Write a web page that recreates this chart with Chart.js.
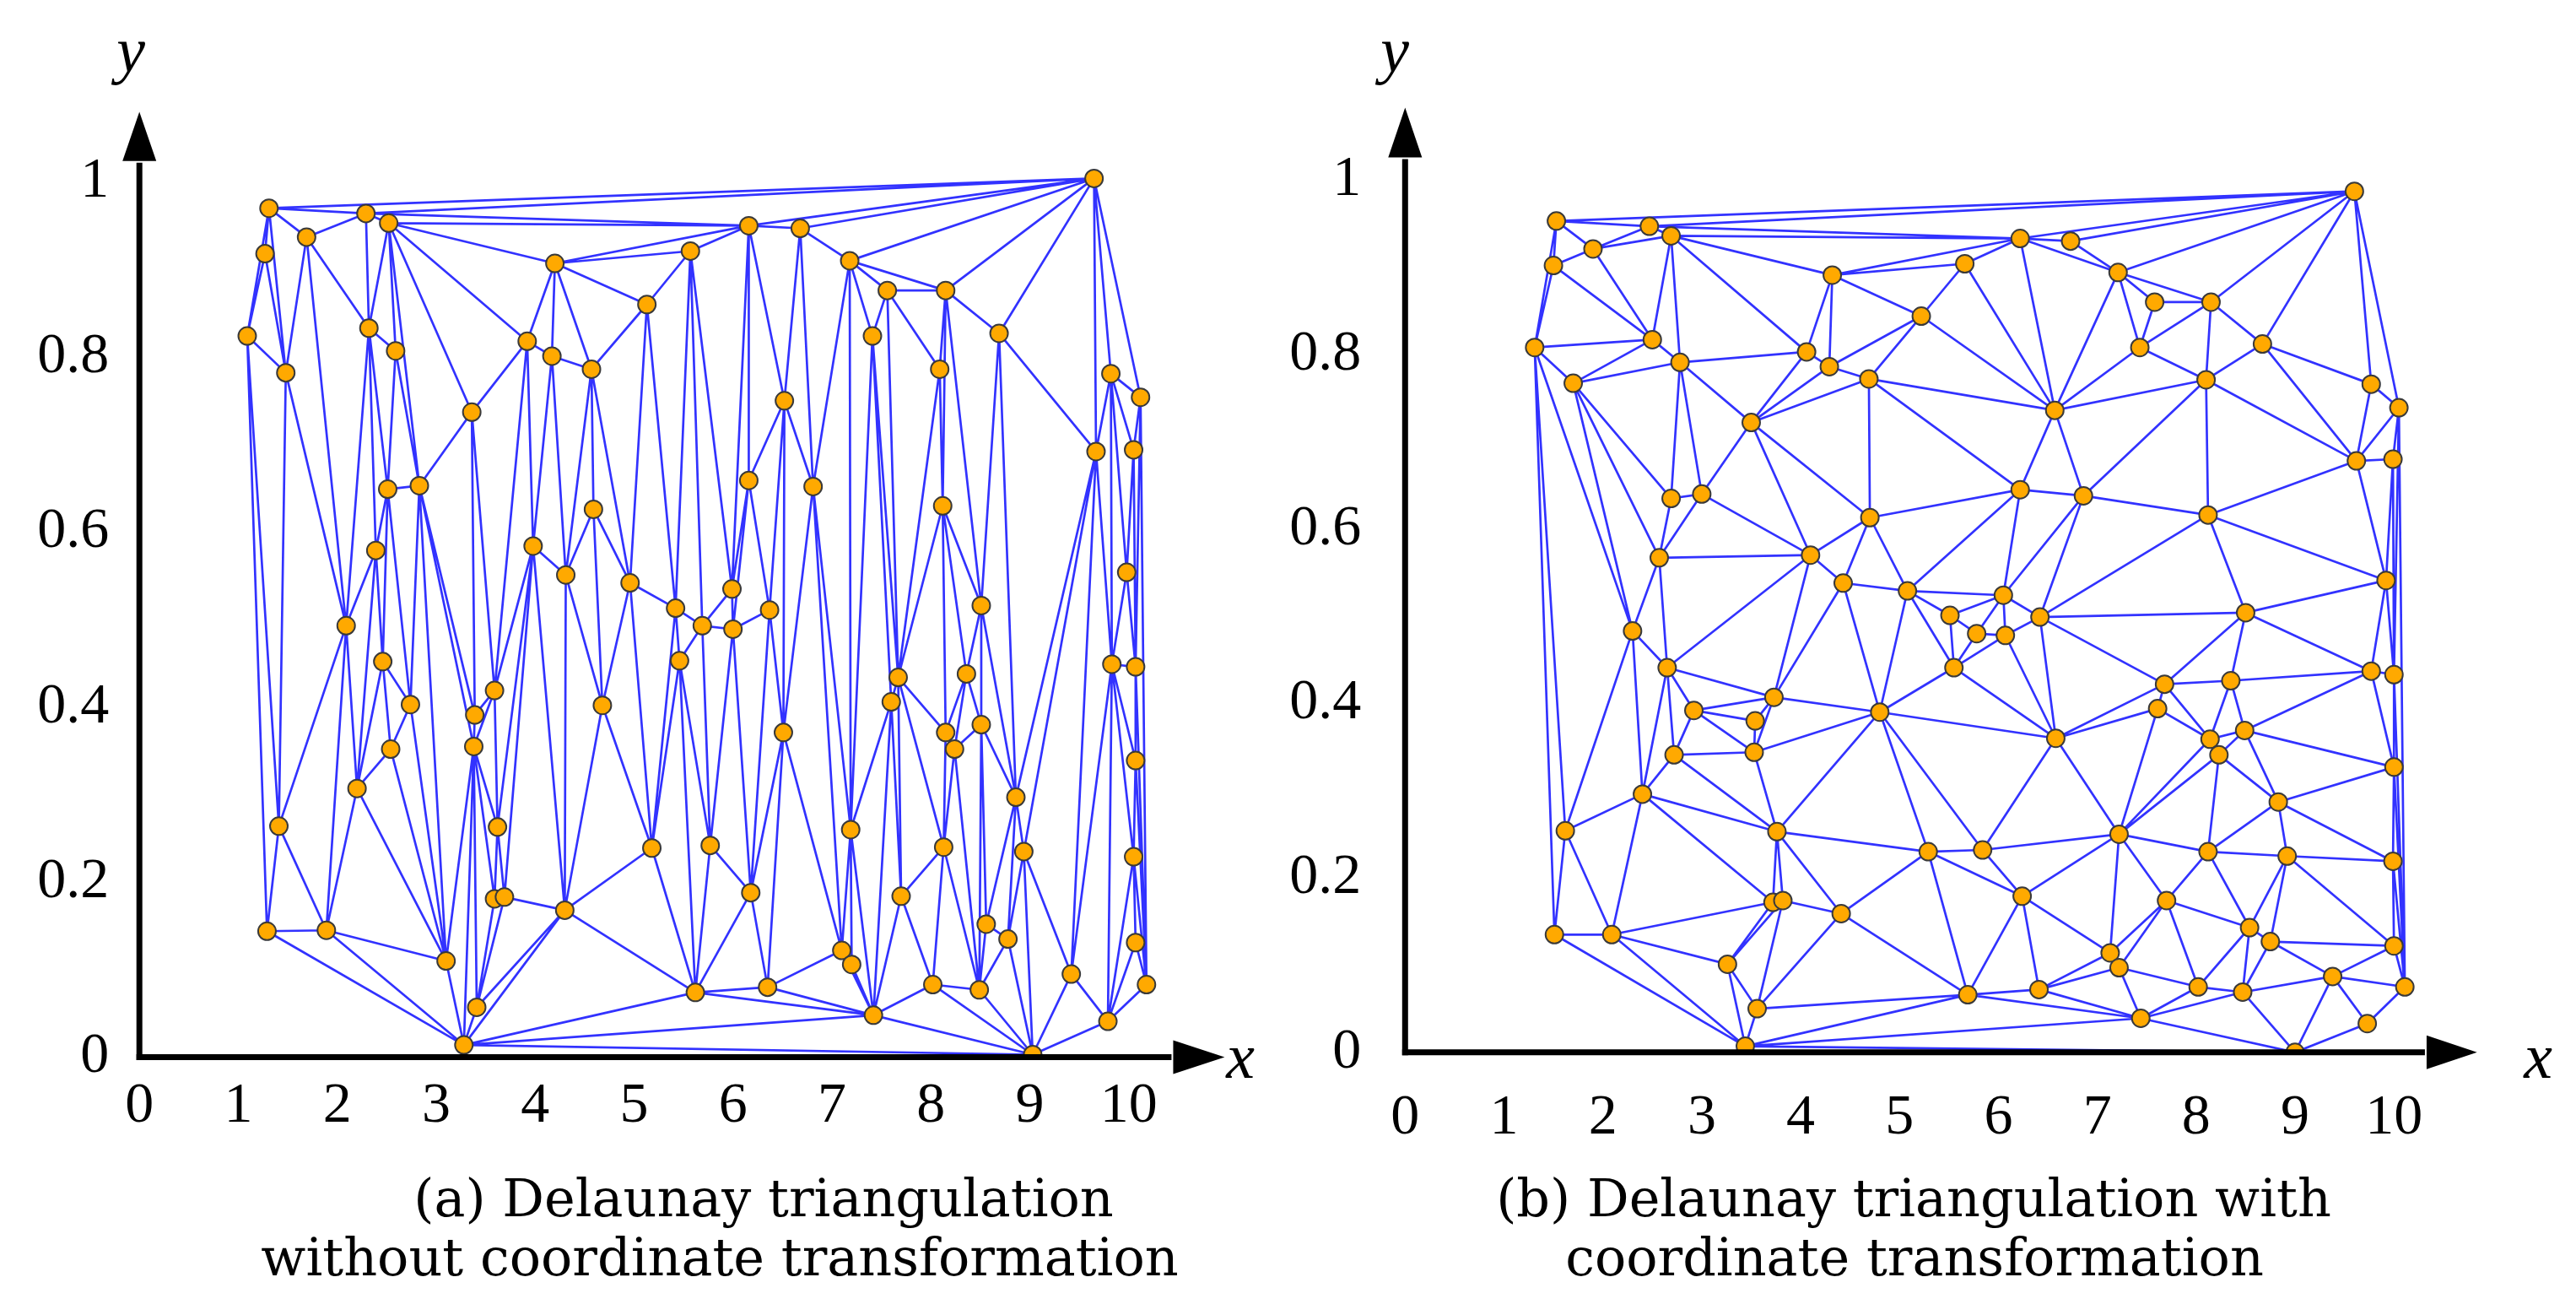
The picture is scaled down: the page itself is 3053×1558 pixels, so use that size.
<!DOCTYPE html>
<html>
<head>
<meta charset="utf-8">
<script src="https://cdn.jsdelivr.net/npm/chart.js@4.4.1/dist/chart.umd.min.js"></script>
<style>
  html, body { margin: 0; padding: 0; background: #ffffff; }
  body { width: 3053px; height: 1558px; position: relative; overflow: hidden; }
  canvas { position: absolute; top: 0; }
  .cap { position: absolute; font-family: "DejaVu Serif", serif; font-size: 62px; line-height: 62px; white-space: nowrap; transform: translateX(-50%); color: #000; }
  .ax { position: absolute; font-family: "Liberation Serif", serif; font-style: italic; font-size: 76px; line-height: 76px; white-space: nowrap; transform: translateX(-50%); color: #000; }
</style>
</head>
<body>
<canvas id="ca" width="1500" height="1558" style="left:0px;width:1500px;height:1558px"></canvas>
<canvas id="cb" width="1553" height="1558" style="left:1500px;width:1553px;height:1558px"></canvas>

<div class="ax" style="left:155px;top:21px">y</div>
<div class="ax" style="left:1470px;top:1213px">x</div>
<div class="ax" style="left:1653px;top:21px">y</div>
<div class="ax" style="left:3008px;top:1213px">x</div>

<div class="cap" style="left:905px;top:1389px">(a) Delaunay triangulation</div>
<div class="cap" style="left:853px;top:1459px">without coordinate transformation</div>
<div class="cap" style="left:2268px;top:1389px">(b) Delaunay triangulation with</div>
<div class="cap" style="left:2269px;top:1459px">coordinate transformation</div>

<script>
// ---------------- DATA ----------------
const xTicks = [0, 1, 2, 3, 4, 5, 6, 7, 8, 9, 10];
const xTickLabels = ['0', '1', '2', '3', '4', '5', '6', '7', '8', '9', '10'];
const yTicks = [0, 0.2, 0.4, 0.6, 0.8, 1];
const yTickLabels = ['0', '0.2', '0.4', '0.6', '0.8', '1'];

// (a) nodes, triangulated without coordinate transformation
const nodesA_x = [
  1.31, 2.29, 2.52, 1.69, 1.27, 4.20, 5.13, 1.09, 2.32, 2.59, 1.48, 3.92, 4.17, 4.57, 3.36, 2.51, 2.83,
  4.59, 2.39, 3.98, 4.31, 4.96, 2.09, 9.65, 6.16, 6.68, 5.57, 7.18, 7.56, 8.15, 7.41, 8.69, 8.09, 9.82,
  10.12, 6.52, 9.67, 10.05, 6.16, 6.81, 8.12, 9.98, 5.99, 5.42, 6.37, 5.69, 6.00, 8.51, 2.46, 2.74, 3.59,
  3.39, 4.68, 2.54, 3.38, 2.20, 1.41, 3.62, 5.18, 3.59, 3.69, 4.30, 1.29, 1.89, 3.10, 3.41, 3.28, 5.46,
  7.67, 7.60, 8.36, 9.83, 10.07, 6.51, 8.15, 8.51, 8.24, 10.07, 8.86, 7.19, 5.77, 8.13, 8.94, 10.05, 6.18,
  7.70, 8.56, 8.78, 10.07, 7.10, 7.20, 9.42, 10.18, 8.02, 8.49, 5.62, 6.35, 7.42, 9.79, 9.03
];
const nodesA_y = [
  0.970, 0.964, 0.953, 0.937, 0.918, 0.907, 0.860, 0.824, 0.833, 0.807, 0.782, 0.818, 0.801, 0.786, 0.737, 0.649, 0.653,
  0.626, 0.579, 0.584, 0.551, 0.542, 0.493, 1.004, 0.950, 0.947, 0.921, 0.910, 0.876, 0.876, 0.824, 0.827, 0.786, 0.781,
  0.754, 0.750, 0.692, 0.694, 0.659, 0.652, 0.630, 0.554, 0.535, 0.513, 0.511, 0.493, 0.489, 0.516, 0.452, 0.403, 0.419,
  0.391, 0.402, 0.352, 0.355, 0.307, 0.264, 0.263, 0.239, 0.181, 0.183, 0.168, 0.144, 0.145, 0.110, 0.057, 0.014, 0.453,
  0.434, 0.406, 0.438, 0.449, 0.446, 0.371, 0.371, 0.380, 0.352, 0.339, 0.297, 0.260, 0.242, 0.240, 0.235, 0.229, 0.188,
  0.184, 0.152, 0.135, 0.131, 0.122, 0.106, 0.095, 0.083, 0.083, 0.077, 0.074, 0.080, 0.048, 0.041, 0.003
];

// (b) nodes, triangulated with coordinate transformation
const nodesB_x = [
  1.53, 2.47, 2.69, 1.90, 1.50, 4.32, 5.66, 5.22, 1.31, 2.50, 2.78, 1.70, 4.06, 4.29, 4.69, 3.50, 2.69,
  3.00, 4.70, 2.57, 4.10, 4.43, 5.08, 5.51, 2.30, 9.60, 6.22, 6.73, 7.21, 7.58, 8.15, 7.43, 8.67, 8.10,
  9.77, 10.05, 6.57, 9.62, 9.99, 6.22, 6.86, 8.12, 9.92, 6.05, 6.42, 8.50, 2.65, 5.55, 3.73, 2.92, 3.54,
  4.80, 2.72, 3.53, 2.40, 1.62, 3.76, 5.29, 3.72, 3.82, 4.41, 1.51, 2.09, 3.26, 3.56, 3.44, 5.69, 5.78,
  6.07, 7.68, 8.35, 9.77, 10.00, 7.61, 6.58, 8.14, 8.49, 8.23, 10.00, 8.83, 7.22, 5.84, 8.12, 8.92, 9.99,
  6.24, 7.70, 8.54, 8.75, 10.00, 7.13, 7.22, 9.38, 6.41, 8.02, 8.47, 10.11, 9.73, 7.44, 9.00
];
const nodesB_y = [
  0.953, 0.947, 0.936, 0.921, 0.902, 0.891, 0.904, 0.844, 0.808, 0.817, 0.791, 0.767, 0.803, 0.786, 0.772, 0.722, 0.635,
  0.640, 0.613, 0.567, 0.570, 0.538, 0.529, 0.501, 0.483, 0.987, 0.933, 0.930, 0.894, 0.860, 0.860, 0.808, 0.812, 0.771,
  0.766, 0.739, 0.736, 0.678, 0.680, 0.645, 0.638, 0.616, 0.541, 0.524, 0.499, 0.504, 0.441, 0.441, 0.407, 0.392, 0.380,
  0.390, 0.341, 0.344, 0.296, 0.254, 0.253, 0.230, 0.172, 0.174, 0.159, 0.135, 0.135, 0.101, 0.050, 0.007, 0.066, 0.480,
  0.478, 0.422, 0.426, 0.437, 0.433, 0.394, 0.360, 0.359, 0.369, 0.341, 0.327, 0.287, 0.250, 0.232, 0.230, 0.225, 0.219,
  0.179, 0.174, 0.143, 0.127, 0.122, 0.114, 0.097, 0.087, 0.072, 0.075, 0.069, 0.075, 0.033, 0.039, 0.000
];

// ---------------- Delaunay (Bowyer-Watson) ----------------
function circum(V, a, b, c) {
  const [ax, ay] = V[a], [bx, by] = V[b], [cx, cy] = V[c];
  const d = 2 * (ax * (by - cy) + bx * (cy - ay) + cx * (ay - by));
  const a2 = ax * ax + ay * ay, b2 = bx * bx + by * by, c2 = cx * cx + cy * cy;
  const ux = (a2 * (by - cy) + b2 * (cy - ay) + c2 * (ay - by)) / d;
  const uy = (a2 * (cx - bx) + b2 * (ax - cx) + c2 * (bx - ax)) / d;
  return { a, b, c, cx: ux, cy: uy, r2: (ax - ux) * (ax - ux) + (ay - uy) * (ay - uy) };
}
function delaunayEdges(P) {
  const n = P.length;
  let minX = Infinity, minY = Infinity, maxX = -Infinity, maxY = -Infinity;
  P.forEach(([x, y]) => { minX = Math.min(minX, x); maxX = Math.max(maxX, x); minY = Math.min(minY, y); maxY = Math.max(maxY, y); });
  const d = Math.max(maxX - minX, maxY - minY), mx = (minX + maxX) / 2, my = (minY + maxY) / 2;
  const V = P.slice();
  V.push([mx - 2000 * d, my - 1000 * d], [mx + 2000 * d, my - 1000 * d], [mx, my + 2000 * d]);
  let tris = [circum(V, n, n + 1, n + 2)];
  for (let i = 0; i < n; i++) {
    const [px, py] = V[i];
    const bad = [], good = [];
    for (const t of tris) {
      const dx = px - t.cx, dy = py - t.cy;
      if (dx * dx + dy * dy < t.r2) bad.push(t); else good.push(t);
    }
    const cnt = new Map();
    const key = (a, b) => a < b ? a + ',' + b : b + ',' + a;
    for (const t of bad) for (const [a, b] of [[t.a, t.b], [t.b, t.c], [t.c, t.a]]) cnt.set(key(a, b), (cnt.get(key(a, b)) || 0) + 1);
    for (const t of bad) for (const [a, b] of [[t.a, t.b], [t.b, t.c], [t.c, t.a]]) if (cnt.get(key(a, b)) === 1) good.push(circum(V, a, b, i));
    tris = good;
  }
  const edges = new Map();
  for (const t of tris) {
    if (t.a >= n || t.b >= n || t.c >= n) continue;
    for (const [a, b] of [[t.a, t.b], [t.b, t.c], [t.c, t.a]]) {
      const k = a < b ? a + ',' + b : b + ',' + a;
      if (!edges.has(k)) edges.set(k, [a, b]);
    }
  }
  return [...edges.values()];
}

function buildPanel(canvasId, xs, ys, transform, geom) {
  const nodes = xs.map((x, i) => ({ x: x, y: ys[i] }));
  const edges = delaunayEdges(xs.map((x, i) => transform(x, ys[i])));
  const segs = [];
  edges.forEach(([a, b]) => { segs.push(nodes[a], nodes[b], { x: null, y: null }); });

  const axesPlugin = {
    id: 'arrowAxes',
    afterDatasetsDraw(chart) {
      const ctx = chart.ctx, sx = chart.scales.x, sy = chart.scales.y, area = chart.chartArea;
      const x0 = sx.getPixelForValue(0), y0 = sy.getPixelForValue(0);
      const xb = sx.getPixelForValue(geom.xArrowBase), yb = sy.getPixelForValue(geom.yArrowBase);
      ctx.save();
      ctx.strokeStyle = '#000'; ctx.fillStyle = '#000'; ctx.lineWidth = 7; ctx.lineCap = 'butt';
      ctx.beginPath(); ctx.moveTo(x0, y0 + 3.5); ctx.lineTo(x0, yb + 2); ctx.stroke();
      ctx.beginPath(); ctx.moveTo(x0 - 3.5, y0); ctx.lineTo(xb - 2, y0); ctx.stroke();
      ctx.beginPath(); ctx.moveTo(x0 - 20, yb); ctx.lineTo(x0 + 20, yb); ctx.lineTo(x0, area.top); ctx.closePath(); ctx.fill();
      ctx.beginPath(); ctx.moveTo(xb, y0 - 20); ctx.lineTo(xb, y0 + 20); ctx.lineTo(area.right, y0); ctx.closePath(); ctx.fill();
      ctx.restore();
    }
  };

  new Chart(document.getElementById(canvasId), {
    type: 'scatter',
    data: {
      datasets: [
        { label: 'nodes', data: nodes, order: 0, pointRadius: 10.5, pointHoverRadius: 10.5,
          backgroundColor: '#FFA900', borderColor: '#3a3a3a', borderWidth: 2, showLine: false },
        { label: 'edges', data: segs, order: 1, showLine: true, spanGaps: false, pointRadius: 0, pointHoverRadius: 0,
          borderColor: 'rgba(5,5,255,0.82)', borderWidth: 2.7, tension: 0, fill: false }
      ]
    },
    options: {
      responsive: false, animation: false, devicePixelRatio: 1,
      layout: { padding: geom.padding },
      plugins: { legend: { display: false }, tooltip: { enabled: false }, title: { display: false } },
      events: [],
      scales: {
        x: {
          type: 'linear', min: 0, max: geom.xMax,
          grid: { display: false, drawTicks: false }, border: { display: false },
          ticks: { color: '#000', font: { family: 'Liberation Serif', size: 68 }, padding: geom.xPad, maxRotation: 0, autoSkip: false,
                   callback: (v) => { const i = xTicks.indexOf(v); return i >= 0 ? xTickLabels[i] : ''; } },
          afterBuildTicks: (s) => { s.ticks = xTicks.map(v => ({ value: v })); },
          afterFit: (s) => { s.height = 120; }
        },
        y: {
          type: 'linear', min: geom.yMin, max: geom.yMax,
          grid: { display: false, drawTicks: false }, border: { display: false },
          ticks: { color: '#000', font: { family: 'Liberation Serif', size: 68 }, padding: geom.yPad, autoSkip: false,
                   callback: (v) => { const i = yTicks.indexOf(v); return i >= 0 ? yTickLabels[i] : ''; } },
          afterBuildTicks: (s) => { s.ticks = yTicks.map(v => ({ value: v })); },
          afterFit: (s) => { s.width = geom.yWidth; }
        }
      }
    },
    plugins: [axesPlugin]
  });
}

// panel (a): chart area maps x 0..10.97 -> 165.2..1451.4 px, y 0..1.08 -> 1252.6..132.6 px
buildPanel('ca', nodesA_x, nodesA_y, (x, y) => [x, y], {
  xMax: 10.97, yMin: 0, yMax: 1.08, xArrowBase: 10.45, yArrowBase: 1.024,
  yWidth: 165.2, padding: { left: 0, right: 48.6, top: 132.6, bottom: 185.4 },
  xPad: 18, yPad: 36
});
// panel (b): x scaled to [0,1] before triangulation
buildPanel('cb', nodesB_x, nodesB_y, (x, y) => [x / 10, y], {
  xMax: 10.84, yMin: 0, yMax: 1.083, xArrowBase: 10.33, yArrowBase: 1.026,
  yWidth: 165.3, padding: { left: 0, right: 117.3, top: 127.5, bottom: 191.2 },
  xPad: 38, yPad: 52
});
</script>
</body>
</html>
